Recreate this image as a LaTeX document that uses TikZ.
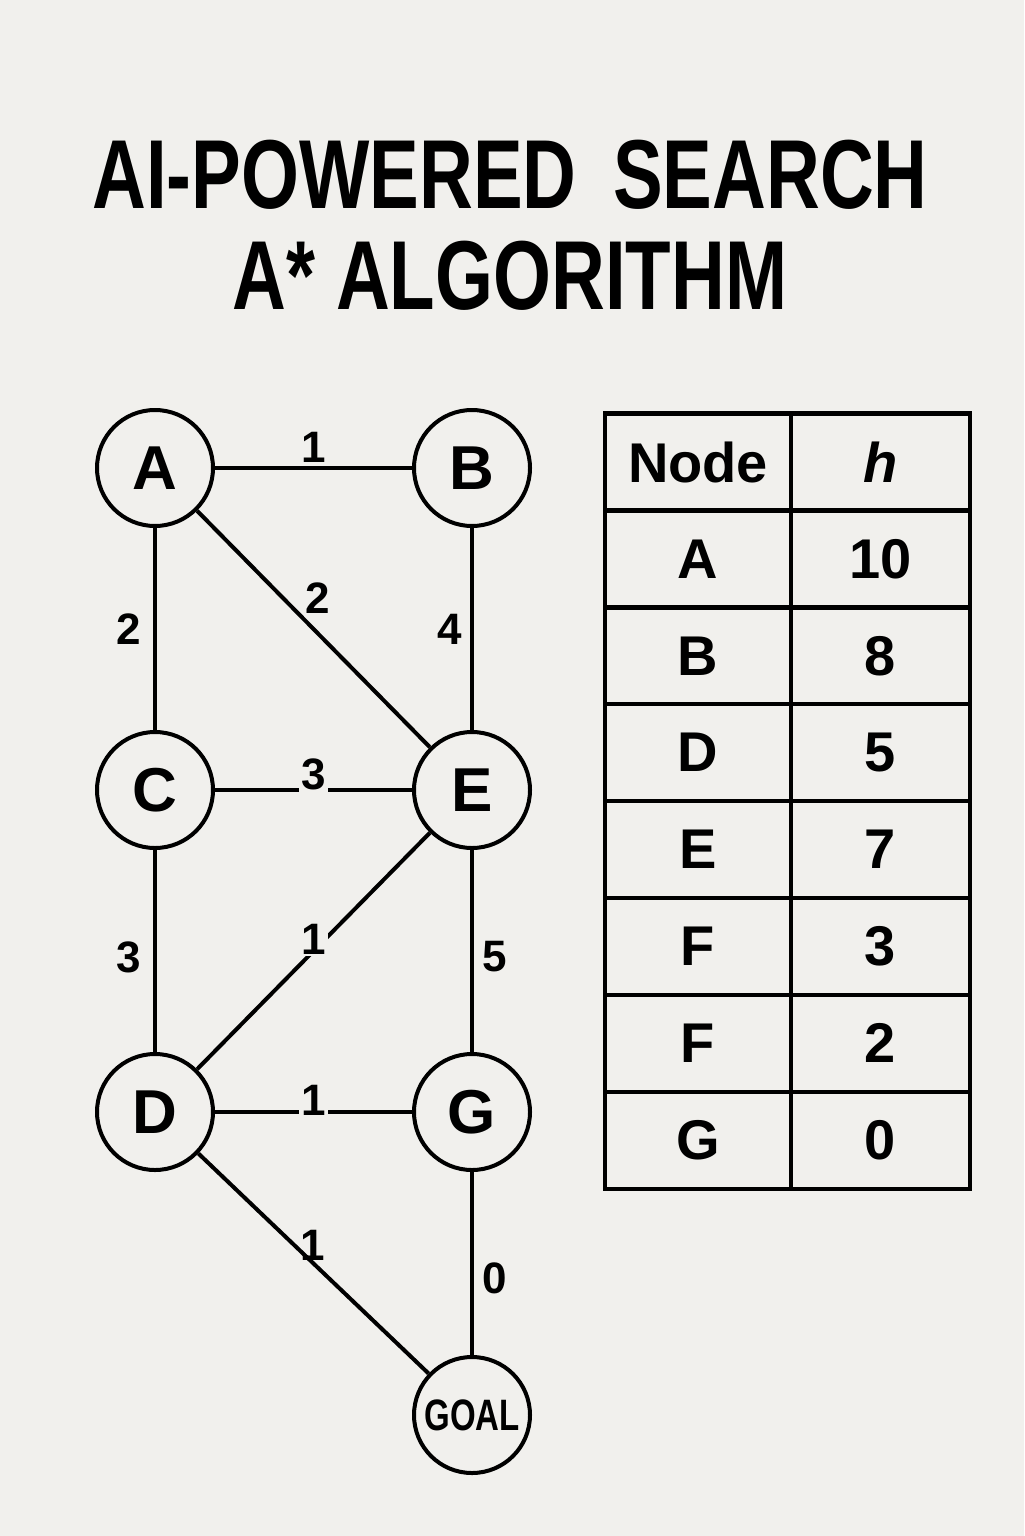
\documentclass[tikz,border=0pt]{standalone}
\usepackage{fontspec}
\setmainfont{Liberation Sans}
\newfontfamily\titlefont[FakeStretch=0.76]{Liberation Sans}
\newfontfamily\goalfont[FakeStretch=0.75]{Liberation Sans}
\usetikzlibrary{positioning}
\definecolor{bgcol}{RGB}{241,240,237}
\tikzset{
    vertex/.style={circle, draw, line width=2pt, minimum size=58pt, inner sep=0pt, font=\fontsize{31}{31}\selectfont\bfseries},
    wlab/.style={font=\fontsize{22}{22}\selectfont\bfseries, inner sep=2pt},
    onlab/.style={wlab, fill=bgcol, inner sep=1pt},
    cell/.style={rectangle, draw, line width=2.2pt, minimum height=48.45pt, inner sep=0pt, font=\fontsize{28}{28}\selectfont\bfseries},
    headline/.style={font=\titlefont\fontsize{49}{49}\selectfont\bfseries}
}
\begin{document}
\begin{tikzpicture}[x=0.5pt, y=-0.5pt, node distance=101pt and 98.5pt]
\fill[bgcol] (0,0) rectangle (1024,1536);
\useasboundingbox (0,0) rectangle (1024,1536);
% title
\node[headline] (title1) at (510,175) {AI-POWERED\hspace{8pt} SEARCH};
\node[headline] (title2) at (510,276) {A* ALGORITHM};
% graph
\node[vertex] (A) at (155,468) {A};
\node[vertex] (B) [right=of A] {B};
\node[vertex] (C) [below=of A] {C};
\node[vertex] (E) [right=of C] {E};
\node[vertex] (D) [below=of C] {D};
\node[vertex] (G) [right=of D] {G};
\node[vertex, font=\goalfont\fontsize{22}{22}\selectfont\bfseries] (goal) [below=91.5pt of G] {GOAL};
\path[line width=2pt] (A) edge node[wlab, above] {1} (B);
\path[line width=2pt] (A) edge node[wlab, left, xshift=-4pt] {2} (C);
\path[line width=2pt] (A) edge node[wlab, above right, pos=0.45, inner sep=1pt] {2} (E);
\path[line width=2pt] (B) edge node[wlab, left, xshift=-2pt] {4} (E);
\path[line width=2pt] (C) edge node[onlab, yshift=8pt] {3} (E);
\path[line width=2pt] (C) edge node[wlab, left, xshift=-4pt, pos=0.53] {3} (D);
\path[line width=2pt] (D) edge node[onlab, yshift=6pt] {1} (E);
\path[line width=2pt] (E) edge node[wlab, right, xshift=2pt, pos=0.53] {5} (G);
\path[line width=2pt] (D) edge node[onlab, yshift=6pt] {1} (G);
\path[line width=2pt] (D) edge node[wlab, pos=0.47, xshift=3pt, yshift=6pt] {1} (goal);
\path[line width=2pt] (G) edge node[wlab, right, xshift=2pt, pos=0.58] {0} (goal);
% heuristic table
\node[cell, minimum width=93pt] (n0) at (698,462) {Node};
\node[cell, minimum width=89.5pt] (h0) at (880.5,462) {\textit{h}};
\foreach \nm/\hv [count=\i] in {A/10, B/8, D/5, E/7, F/3, F/2, G/0} {
    \node[cell, minimum width=93pt] (n\i) at (698,462+\i*96.9) {\nm};
    \node[cell, minimum width=89.5pt] (h\i) at (880.5,462+\i*96.9) {\hv};
}
\end{tikzpicture}
\end{document}
